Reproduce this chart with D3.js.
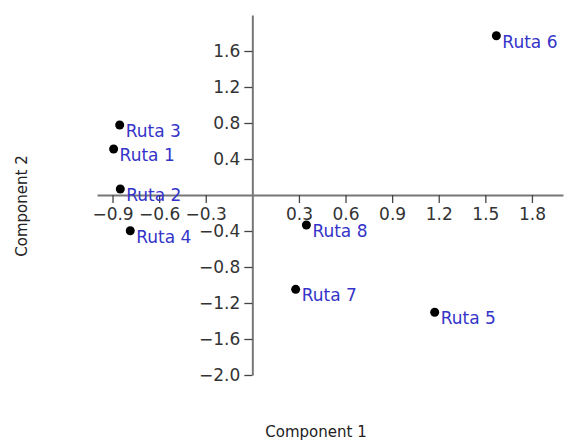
<!DOCTYPE html>
<html>
<head>
<meta charset="utf-8">
<script src="https://cdn.jsdelivr.net/npm/d3@7"></script>
<style>
  body { margin: 0; background: #fff; }
  .tick text { font-family: "DejaVu Sans", sans-serif; font-size: 17px; fill: #333; }
  .titre { font-family: "DejaVu Sans", sans-serif; font-size: 15px; fill: #222; }
  .etiquette { font-family: "DejaVu Sans", sans-serif; font-size: 17px; fill: #3434c8; }
</style>
</head>
<body>
<div id="graphe"></div>
<script>
//----------------------------------------------------------------
//  données : scores des routes sur les deux composantes
//----------------------------------------------------------------
var routes = ["Ruta 1","Ruta 2","Ruta 3","Ruta 4","Ruta 5","Ruta 6","Ruta 7","Ruta 8"];
var comp1  = [-0.893, -0.85, -0.854, -0.786, 1.174, 1.571, 0.279, 0.348];
var comp2  = [0.511, 0.067, 0.778, -0.397, -1.303, 1.77, -1.048, -0.333];
var ticksX = [-0.9, -0.6, -0.3, 0.3, 0.6, 0.9, 1.2, 1.5, 1.8];
var ticksY = [-2.0, -1.6, -1.2, -0.8, -0.4, 0.4, 0.8, 1.2, 1.6];

largeurSvg = 565 ; hauteurSvg = 442;

var svg = d3.select("#graphe")
    .append("svg")
    .attr("width", largeurSvg)
    .attr("height", hauteurSvg);

var x = d3.scaleLinear().domain([-1, 2]).range([97, 563]);
var y = d3.scaleLinear().domain([-2, 2]).range([375, 15]);

// axe horizontal, passe par y = 0
var axeX = svg.append("g")
    .attr("transform", "translate(0," + y(0) + ")")
    .call(d3.axisBottom(x).tickValues(ticksX).tickSize(8).tickSizeOuter(0).tickPadding(5)
        .tickFormat(d3.format(".1f")));

// axe vertical, passe par x = 0
var axeY = svg.append("g")
    .attr("transform", "translate(" + x(0) + ",0)")
    .call(d3.axisLeft(y).tickValues(ticksY).tickSize(8).tickSizeOuter(0).tickPadding(4)
        .tickFormat(d3.format(".1f")));

[axeX, axeY].forEach(function(a) {
    a.select(".domain").attr("stroke", "#777").attr("stroke-width", 2);
    a.selectAll(".tick line").attr("stroke", "#444").attr("stroke-width", 1.3);
});

// points et étiquettes
var donnees = routes.map(function(r, i) { return {nom: r, c1: comp1[i], c2: comp2[i]}; });

svg.append("g").selectAll("circle")
    .data(donnees)
    .enter().append("circle")
        .attr("cx", function(d) { return x(d.c1); })
        .attr("cy", function(d) { return y(d.c2); })
        .attr("r", 4.5)
        .attr("fill", "#000");

svg.append("g").selectAll("text")
    .data(donnees)
    .enter().append("text")
        .attr("class", "etiquette")
        .attr("x", function(d) { return x(d.c1) + 6; })
        .attr("y", function(d) { return y(d.c2) + 12; })
        .text(function(d) { return d.nom; });

// titres des axes
svg.append("text")
    .attr("class", "titre")
    .attr("text-anchor", "middle")
    .attr("x", 316)
    .attr("y", 437)
    .text("Component 1");

svg.append("text")
    .attr("class", "titre")
    .attr("text-anchor", "middle")
    .attr("transform", "translate(27,206) rotate(-90)")
    .text("Component 2");
</script>
</body>
</html>
